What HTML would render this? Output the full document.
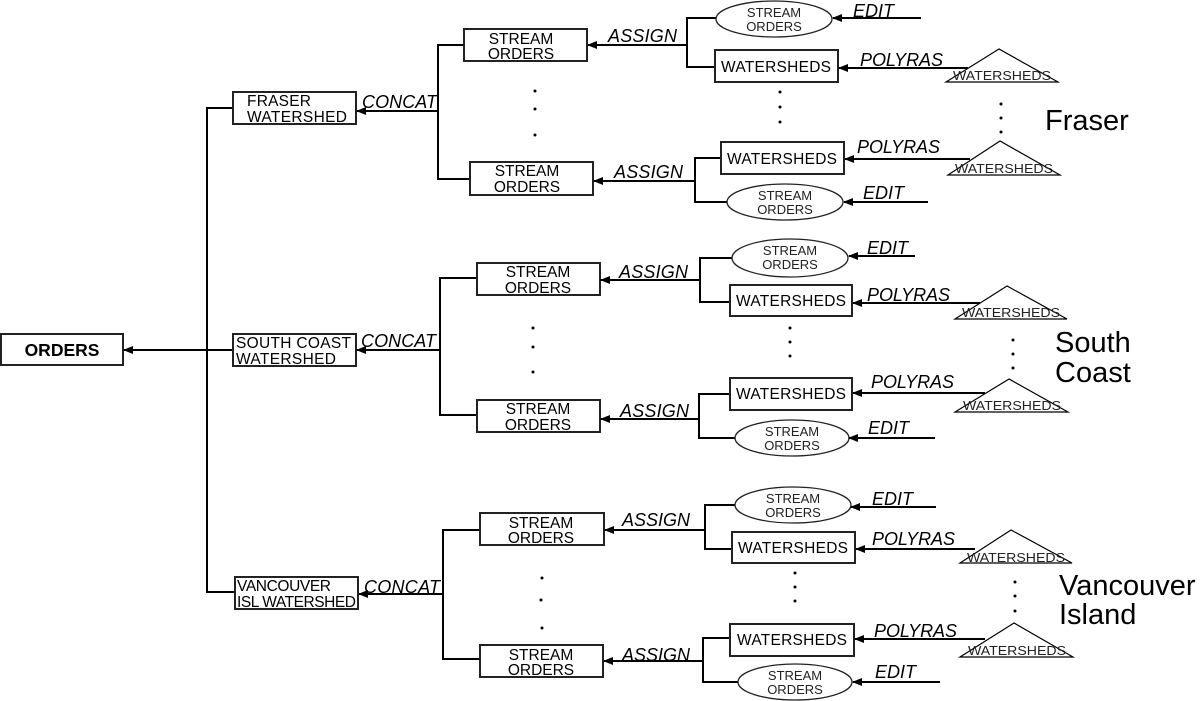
<!DOCTYPE html>
<html><head><meta charset="utf-8"><style>
html,body{margin:0;padding:0;background:#fff;}
svg{display:block;font-family:"Liberation Sans",Arial,sans-serif;}
.b{fill:#fff;stroke:#222;stroke-width:2}
.l{stroke:#000;stroke-width:2;fill:none}
.t{font-size:15.5px;fill:#000}
.e{font-size:13px;fill:#222}
.i{font-size:18px;font-style:italic;fill:#000}
.w{font-size:13px;fill:#222}
.big{font-size:29px;fill:#000}
</style></head><body>
<svg width="1204" height="701" viewBox="0 0 1204 701" xmlns="http://www.w3.org/2000/svg">
<defs><marker id="a" markerWidth="10" markerHeight="8" refX="9" refY="4" orient="auto" markerUnits="userSpaceOnUse"><path d="M0,0 L10,4 L0,8 z" fill="#000"/></marker></defs>

<rect class="b" x="1" y="334" width="122" height="31"/>
<text x="62" y="356" text-anchor="middle" font-weight="bold" font-size="17.5">ORDERS</text>
<line class="l" x1="233" y1="350" x2="124" y2="350" marker-end="url(#a)"/>
<polyline class="l" points="233,108 207,108 207,592 235,592"/>

<rect class="b" x="233" y="92" width="123" height="32"/>
<text class="t" x="247" y="106" textLength="64">FRASER</text>
<text class="t" x="247" y="122" textLength="100">WATERSHED</text>
<line class="l" x1="438" y1="111" x2="357" y2="111" marker-end="url(#a)"/>
<text class="i" x="362" y="108" textLength="75">CONCAT</text>
<polyline class="l" points="464,45 438,45 438,179 470,179"/>
<rect class="b" x="464" y="29" width="123" height="32"/>
<text class="t" x="521" y="44" text-anchor="middle">STREAM</text>
<text class="t" x="521" y="59" text-anchor="middle">ORDERS</text>
<rect class="b" x="470" y="162" width="123" height="33"/>
<text class="t" x="527" y="176" text-anchor="middle">STREAM</text>
<text class="t" x="527" y="192" text-anchor="middle">ORDERS</text>
<circle cx="535" cy="91" r="1.5"/><circle cx="535" cy="109" r="1.5"/><circle cx="535" cy="135" r="1.5"/>
<line class="l" x1="687" y1="45" x2="588" y2="45" marker-end="url(#a)"/>
<text class="i" x="608" y="42" textLength="69">ASSIGN</text>
<polyline class="l" points="716,18 687,18 687,67 715,67"/>
<ellipse class="b" cx="774" cy="19" rx="58" ry="18" style="stroke-width:1.3"/>
<text class="e" x="774" y="17" text-anchor="middle">STREAM</text>
<text class="e" x="774" y="31" text-anchor="middle">ORDERS</text>
<line class="l" x1="921" y1="18" x2="833" y2="18" marker-end="url(#a)"/>
<text class="i" x="853" y="17">EDIT</text>
<rect class="b" x="715" y="50" width="123" height="32"/>
<text class="t" x="776" y="72" text-anchor="middle" textLength="110">WATERSHEDS</text>
<line class="l" x1="968" y1="68" x2="839" y2="68" marker-end="url(#a)"/>
<text class="i" x="860" y="66" textLength="83">POLYRAS</text>
<polygon points="999,49 946,82 1058,82" fill="none" stroke="#000" stroke-width="1.2"/>
<text class="w" x="1002" y="80" text-anchor="middle" textLength="98" lengthAdjust="spacingAndGlyphs">WATERSHEDS</text>
<circle cx="780" cy="92" r="1.5"/><circle cx="780" cy="107" r="1.5"/><circle cx="780" cy="122" r="1.5"/>
<circle cx="1001" cy="104" r="1.5"/><circle cx="1001" cy="118" r="1.5"/><circle cx="1001" cy="132" r="1.5"/>
<text class="big" x="1045" y="130">Fraser</text>
<line class="l" x1="695" y1="181" x2="594" y2="181" marker-end="url(#a)"/>
<text class="i" x="614" y="178" textLength="69">ASSIGN</text>
<polyline class="l" points="721,158 695,158 695,202 727,202"/>
<rect class="b" x="721" y="142" width="123" height="32"/>
<text class="t" x="782" y="164" text-anchor="middle" textLength="110">WATERSHEDS</text>
<line class="l" x1="970" y1="159" x2="845" y2="159" marker-end="url(#a)"/>
<text class="i" x="857" y="153" textLength="83">POLYRAS</text>
<polygon points="1000,141 948,175 1060,175" fill="none" stroke="#000" stroke-width="1.2"/>
<text class="w" x="1004" y="173" text-anchor="middle" textLength="98" lengthAdjust="spacingAndGlyphs">WATERSHEDS</text>
<ellipse class="b" cx="785" cy="202" rx="58" ry="18" style="stroke-width:1.3"/>
<text class="e" x="785" y="200" text-anchor="middle">STREAM</text>
<text class="e" x="785" y="214" text-anchor="middle">ORDERS</text>
<line class="l" x1="928" y1="202" x2="844" y2="202" marker-end="url(#a)"/>
<text class="i" x="863" y="199">EDIT</text>

<rect class="b" x="233" y="334" width="123" height="32"/>
<text class="t" x="236" y="348" textLength="115">SOUTH COAST</text>
<text class="t" x="236" y="364" textLength="100">WATERSHED</text>
<line class="l" x1="440" y1="350" x2="357" y2="350" marker-end="url(#a)"/>
<text class="i" x="361" y="347" textLength="75">CONCAT</text>
<polyline class="l" points="477,278 440,278 440,415 477,415"/>
<rect class="b" x="477" y="263" width="123" height="32"/>
<text class="t" x="538" y="277" text-anchor="middle">STREAM</text>
<text class="t" x="538" y="293" text-anchor="middle">ORDERS</text>
<rect class="b" x="477" y="400" width="123" height="32"/>
<text class="t" x="538" y="414" text-anchor="middle">STREAM</text>
<text class="t" x="538" y="430" text-anchor="middle">ORDERS</text>
<circle cx="533" cy="328" r="1.5"/><circle cx="533" cy="347" r="1.5"/><circle cx="533" cy="372" r="1.5"/>
<line class="l" x1="700" y1="280" x2="601" y2="280" marker-end="url(#a)"/>
<text class="i" x="619" y="278" textLength="69">ASSIGN</text>
<polyline class="l" points="732,258 700,258 700,302 730,302"/>
<ellipse class="b" cx="790" cy="258" rx="58" ry="19" style="stroke-width:1.3"/>
<text class="e" x="790" y="255" text-anchor="middle">STREAM</text>
<text class="e" x="790" y="269" text-anchor="middle">ORDERS</text>
<line class="l" x1="915" y1="256" x2="849" y2="256" marker-end="url(#a)"/>
<text class="i" x="867" y="254">EDIT</text>
<rect class="b" x="730" y="285" width="122" height="31"/>
<text class="t" x="791" y="306" text-anchor="middle" textLength="110">WATERSHEDS</text>
<line class="l" x1="980" y1="303" x2="853" y2="303" marker-end="url(#a)"/>
<text class="i" x="867" y="301" textLength="83">POLYRAS</text>
<polygon points="1007,286 955,319 1067,319" fill="none" stroke="#000" stroke-width="1.2"/>
<text class="w" x="1011" y="317" text-anchor="middle" textLength="98" lengthAdjust="spacingAndGlyphs">WATERSHEDS</text>
<circle cx="790" cy="328" r="1.5"/><circle cx="790" cy="342" r="1.5"/><circle cx="790" cy="356" r="1.5"/>
<circle cx="1013" cy="340" r="1.5"/><circle cx="1013" cy="354" r="1.5"/><circle cx="1013" cy="368" r="1.5"/>
<text class="big" x="1055" y="352">South</text>
<text class="big" x="1055" y="382">Coast</text>
<line class="l" x1="699" y1="419" x2="601" y2="419" marker-end="url(#a)"/>
<text class="i" x="620" y="417" textLength="69">ASSIGN</text>
<polyline class="l" points="730,394 699,394 699,438 735,438"/>
<rect class="b" x="730" y="378" width="122" height="32"/>
<text class="t" x="791" y="399" text-anchor="middle" textLength="110">WATERSHEDS</text>
<line class="l" x1="985" y1="393" x2="853" y2="393" marker-end="url(#a)"/>
<text class="i" x="871" y="388" textLength="83">POLYRAS</text>
<polygon points="1009,379 955,412 1068,412" fill="none" stroke="#000" stroke-width="1.2"/>
<text class="w" x="1012" y="410" text-anchor="middle" textLength="98" lengthAdjust="spacingAndGlyphs">WATERSHEDS</text>
<ellipse class="b" cx="792" cy="438" rx="57" ry="18" style="stroke-width:1.3"/>
<text class="e" x="792" y="436" text-anchor="middle">STREAM</text>
<text class="e" x="792" y="450" text-anchor="middle">ORDERS</text>
<line class="l" x1="935" y1="438" x2="849" y2="438" marker-end="url(#a)"/>
<text class="i" x="868" y="434">EDIT</text>

<rect class="b" x="235" y="577" width="123" height="32"/>
<text class="t" x="237" y="591" textLength="94">VANCOUVER</text>
<text class="t" x="237" y="607" textLength="119">ISL WATERSHED</text>
<line class="l" x1="443" y1="594" x2="359" y2="594" marker-end="url(#a)"/>
<text class="i" x="364" y="593" textLength="76">CONCAT</text>
<polyline class="l" points="480,530 443,530 443,659 480,659"/>
<rect class="b" x="480" y="513" width="124" height="32"/>
<text class="t" x="541" y="528" text-anchor="middle">STREAM</text>
<text class="t" x="541" y="543" text-anchor="middle">ORDERS</text>
<rect class="b" x="480" y="645" width="123" height="32"/>
<text class="t" x="541" y="660" text-anchor="middle">STREAM</text>
<text class="t" x="541" y="675" text-anchor="middle">ORDERS</text>
<circle cx="542" cy="578" r="1.5"/><circle cx="541" cy="600" r="1.5"/><circle cx="542" cy="628" r="1.5"/>
<line class="l" x1="705" y1="530" x2="605" y2="530" marker-end="url(#a)"/>
<text class="i" x="622" y="526" textLength="68">ASSIGN</text>
<polyline class="l" points="736,505 705,505 705,549 732,549"/>
<ellipse class="b" cx="793" cy="505" rx="58" ry="18" style="stroke-width:1.3"/>
<text class="e" x="793" y="503" text-anchor="middle">STREAM</text>
<text class="e" x="793" y="517" text-anchor="middle">ORDERS</text>
<line class="l" x1="936" y1="507" x2="851" y2="507" marker-end="url(#a)"/>
<text class="i" x="872" y="505">EDIT</text>
<rect class="b" x="732" y="532" width="123" height="31"/>
<text class="t" x="793" y="553" text-anchor="middle" textLength="110">WATERSHEDS</text>
<line class="l" x1="975" y1="549" x2="856" y2="549" marker-end="url(#a)"/>
<text class="i" x="872" y="545" textLength="83">POLYRAS</text>
<polygon points="1011,530 960,563 1072,563" fill="none" stroke="#000" stroke-width="1.2"/>
<text class="w" x="1016" y="562" text-anchor="middle" textLength="98" lengthAdjust="spacingAndGlyphs">WATERSHEDS</text>
<circle cx="795" cy="573" r="1.5"/><circle cx="795" cy="587" r="1.5"/><circle cx="795" cy="601" r="1.5"/>
<circle cx="1015" cy="582" r="1.5"/><circle cx="1015" cy="596" r="1.5"/><circle cx="1015" cy="611" r="1.5"/>
<text class="big" x="1059" y="595">Vancouver</text>
<text class="big" x="1059" y="624">Island</text>
<line class="l" x1="703" y1="661" x2="604" y2="661" marker-end="url(#a)"/>
<text class="i" x="622" y="661" textLength="68">ASSIGN</text>
<polyline class="l" points="730,638 703,638 703,682 738,682"/>
<rect class="b" x="730" y="624" width="124" height="32"/>
<text class="t" x="792" y="645" text-anchor="middle" textLength="110">WATERSHEDS</text>
<line class="l" x1="985" y1="639" x2="855" y2="639" marker-end="url(#a)"/>
<text class="i" x="874" y="637" textLength="83">POLYRAS</text>
<polygon points="1014,623 960,657 1073,657" fill="none" stroke="#000" stroke-width="1.2"/>
<text class="w" x="1017" y="655" text-anchor="middle" textLength="98" lengthAdjust="spacingAndGlyphs">WATERSHEDS</text>
<ellipse class="b" cx="795" cy="682" rx="57" ry="18" style="stroke-width:1.3"/>
<text class="e" x="795" y="680" text-anchor="middle">STREAM</text>
<text class="e" x="795" y="694" text-anchor="middle">ORDERS</text>
<line class="l" x1="940" y1="682" x2="853" y2="682" marker-end="url(#a)"/>
<text class="i" x="875" y="678">EDIT</text>
</svg>
</body></html>
